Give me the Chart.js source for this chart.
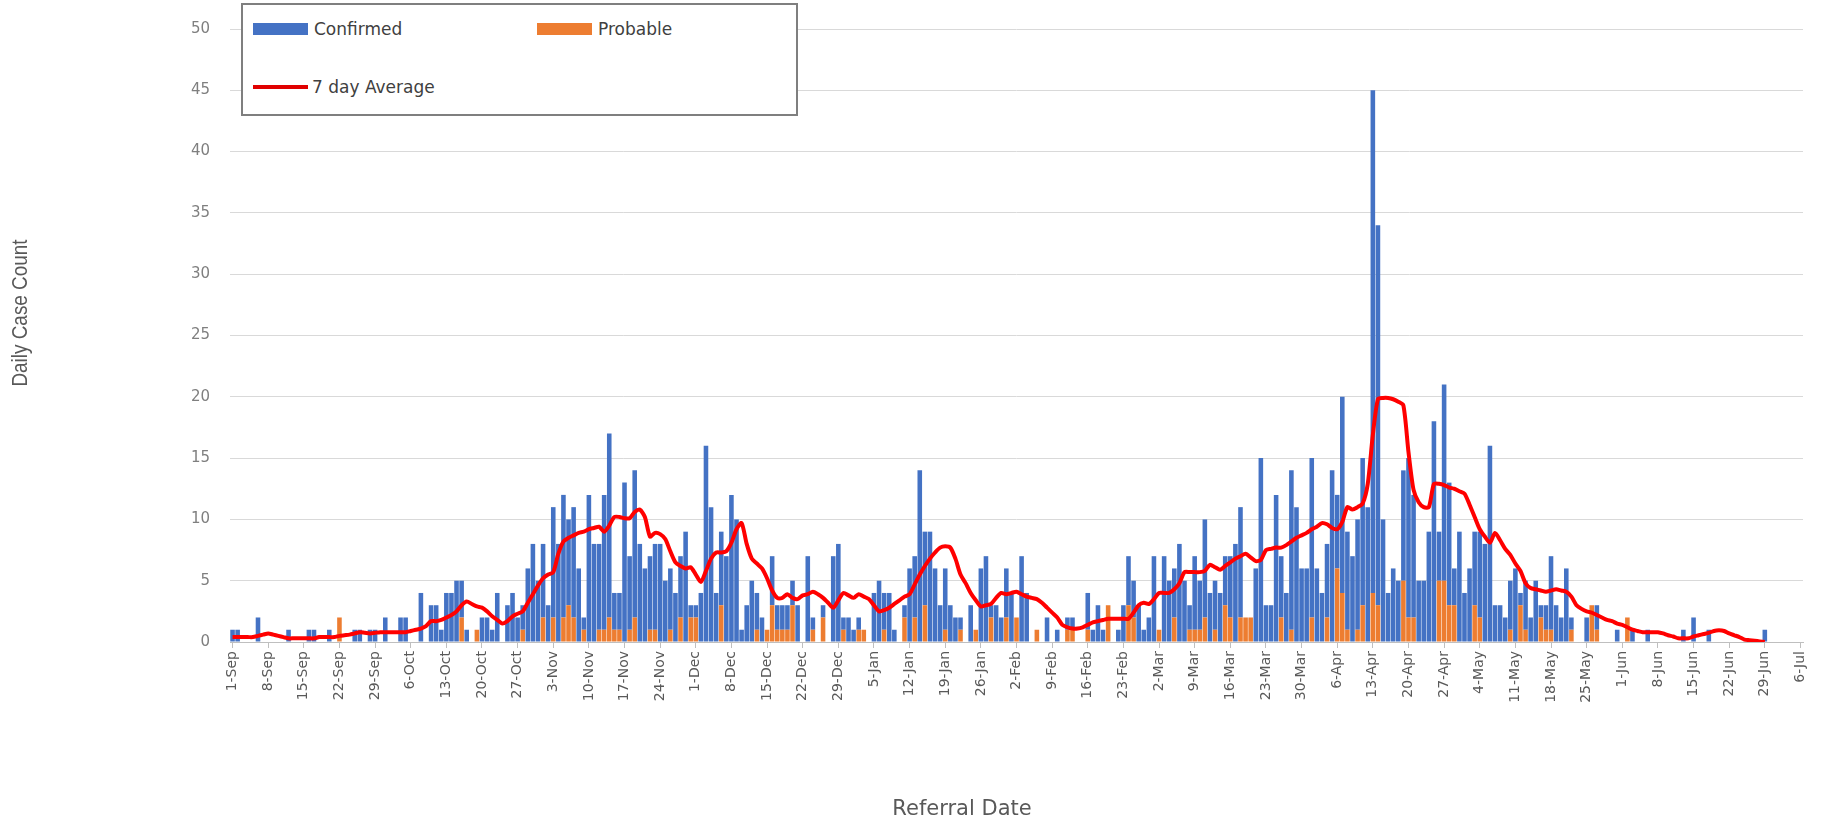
<!DOCTYPE html>
<html>
<head>
<meta charset="utf-8">
<script src="https://cdn.jsdelivr.net/npm/chart.js@4.4.1/dist/chart.umd.min.js"></script>
<style>
body{margin:0;background:#fff;}
#wrap{position:relative;width:1824px;height:822px;}
#legend{position:absolute;left:241px;top:3px;width:553px;height:109px;border:2px solid #7f7f7f;background:#fff;font-family:"DejaVu Sans";font-size:17px;color:#404040;}
.item{position:absolute;display:flex;align-items:center;height:22px;}
.box{width:55px;height:12px;margin-right:6px;}
.ln{width:55px;height:4px;margin-right:4px;background:#e00000;}
</style>
</head>
<body>
<div id="wrap">
<canvas id="chart" width="1824" height="822"></canvas>
<div id="legend">
<div class="item" style="left:10px;top:13px;"><span class="box" style="background:#4472c4"></span>Confirmed</div>
<div class="item" style="left:294px;top:13px;"><span class="box" style="background:#ed7d31"></span>Probable</div>
<div class="item" style="left:10px;top:71px;"><span class="ln"></span>7 day Average</div>
</div>
</div>
<script>

// weekly tick labels, 1-Sep-2020 .. 6-Jul-2021
const tickLabels=[
"1-Sep","8-Sep","15-Sep","22-Sep","29-Sep","6-Oct","13-Oct","20-Oct","27-Oct",
"3-Nov","10-Nov","17-Nov","24-Nov","1-Dec","8-Dec","15-Dec","22-Dec","29-Dec",
"5-Jan","12-Jan","19-Jan","26-Jan","2-Feb","9-Feb","16-Feb","23-Feb",
"2-Mar","9-Mar","16-Mar","23-Mar","30-Mar","6-Apr","13-Apr","20-Apr","27-Apr",
"4-May","11-May","18-May","25-May","1-Jun","8-Jun","15-Jun","22-Jun","29-Jun","6-Jul"
];

// daily counts, one row per week
const confirmed=[
1,1,0,0,0,2,0,
0,0,0,0,1,0,0,
0,1,1,0,0,1,0,
0,0,0,1,1,0,1,
1,0,2,0,0,2,2,
0,0,4,0,3,3,1,
4,4,5,3,1,0,0,
2,2,1,4,0,3,4,
2,2,6,8,5,6,3,
9,8,10,7,9,6,1,
12,8,7,11,15,3,3,
13,6,12,8,6,6,7,
8,5,5,4,5,9,1,
1,4,16,11,4,6,7,
12,10,1,3,5,3,2,
0,4,2,2,2,2,3,
0,7,1,0,1,0,7,
8,1,2,1,1,0,0,
4,5,3,4,1,0,1,
6,5,14,6,9,6,3,
5,3,2,1,0,3,0,
6,7,1,3,2,4,4,
0,7,4,0,0,0,2,
0,1,0,1,1,0,0,
3,1,3,1,0,0,1,
3,4,3,3,1,2,7,
0,7,5,4,8,5,2,
6,4,8,4,4,4,4,
5,8,9,0,0,6,15,
3,3,12,5,4,13,11,
6,6,13,6,4,6,14,
6,16,8,7,9,12,11,
41,31,10,4,6,5,9,
13,10,5,5,9,18,4,
16,10,3,9,4,6,6,
7,8,16,3,3,2,4,
6,1,4,2,5,1,2,
6,3,2,6,1,0,0,
2,0,2,0,0,0,1,
0,0,1,0,0,1,0,
0,0,0,0,0,1,0,
2,0,0,1,0,0,0,
0,0,0,0,0,0,0,
1,0,0,0,0,0,0,
0
];

const probable=[
0,0,0,0,0,0,0,
0,0,0,0,0,0,0,
0,0,0,0,0,0,0,
2,0,0,0,0,0,0,
0,0,0,0,0,0,0,
0,0,0,0,0,0,0,
0,0,0,2,0,0,1,
0,0,0,0,0,0,0,
0,1,0,0,0,2,0,
2,0,2,3,2,0,1,
0,0,1,1,2,1,1,
0,1,2,0,0,1,1,
0,0,1,0,2,0,2,
2,0,0,0,0,3,0,
0,0,0,0,0,1,0,
1,3,1,1,1,3,0,
0,0,1,0,2,0,0,
0,1,0,0,1,1,0,
0,0,1,0,0,0,2,
0,2,0,3,0,0,0,
1,0,0,1,0,0,1,
0,0,2,0,0,2,0,
2,0,0,0,1,0,0,
0,0,0,1,1,0,0,
1,0,0,0,3,0,0,
0,3,2,0,0,0,0,
1,0,0,2,0,0,1,
1,1,2,0,1,0,3,
2,0,2,2,2,0,0,
0,0,0,2,0,1,0,
0,0,2,0,0,2,0,
6,4,1,0,1,3,0,
4,3,0,0,0,0,5,
2,2,0,0,0,0,5,
5,3,3,0,0,0,3,
2,0,0,0,0,0,1,
0,3,1,0,0,2,1,
1,0,0,0,1,0,0,
0,3,1,0,0,0,0,
0,2,0,0,0,0,0,
0,0,0,0,0,0,0,
0,0,0,0,0,0,0,
0,0,0,0,0,0,0,
0,0,0,0,0,0,0,
0
];

const average=[
0.4,0.4,0.4,0.4,0.4,0.5,0.6,
0.7,0.6,0.5,0.4,0.3,0.3,0.3,
0.3,0.3,0.3,0.4,0.4,0.4,0.4,
0.5,0.55,0.6,0.7,0.8,0.75,0.7,
0.75,0.8,0.8,0.8,0.8,0.8,0.8,
0.9,1.0,1.1,1.3,1.7,1.7,1.8,
2.0,2.2,2.5,3.0,3.3,3.1,2.9,
2.8,2.5,2.1,1.8,1.5,1.7,2.1,
2.3,2.5,3.2,3.9,4.6,5.2,5.5,
5.7,7.2,8.2,8.5,8.7,8.9,9.0,
9.2,9.3,9.4,9.0,9.5,10.2,10.2,
10.1,10.1,10.6,10.8,10.2,8.6,8.9,
8.8,8.4,7.4,6.5,6.2,6.0,6.1,
5.5,4.9,5.8,6.8,7.3,7.3,7.4,
8.1,9.2,9.7,8.0,6.8,6.4,6.0,
5.2,4.2,3.6,3.6,3.9,3.6,3.5,
3.8,3.9,4.1,3.9,3.6,3.2,2.8,
3.4,4.0,3.8,3.6,3.9,3.7,3.5,
3.0,2.5,2.6,2.8,3.1,3.4,3.7,
3.9,4.7,5.5,6.2,6.8,7.3,7.7,
7.8,7.7,6.8,5.5,4.8,4.0,3.4,
2.9,3.0,3.1,3.6,4.0,3.9,4.0,
4.1,3.9,3.7,3.6,3.5,3.2,2.8,
2.4,2.0,1.4,1.2,1.1,1.1,1.2,
1.4,1.6,1.7,1.8,1.9,1.9,1.9,
1.9,1.9,2.4,3.0,3.2,3.1,3.5,
4.0,4.0,4.0,4.3,4.8,5.7,5.7,
5.7,5.7,5.8,6.3,6.1,5.9,6.2,
6.5,6.8,7.0,7.2,6.9,6.6,6.7,
7.5,7.6,7.7,7.7,7.9,8.2,8.5,
8.7,8.9,9.2,9.4,9.7,9.6,9.3,
9.2,9.8,11.0,10.8,11.0,11.3,12.9,
16.9,19.8,19.9,19.9,19.8,19.6,19.3,
15.5,12.4,11.4,11.0,11.0,12.9,12.9,
12.8,12.6,12.5,12.3,12.1,11.2,10.2,
9.2,8.6,8.1,8.9,8.3,7.6,7.1,
6.4,5.8,4.8,4.4,4.3,4.2,4.1,
4.2,4.3,4.2,4.1,3.7,3.0,2.7,
2.5,2.4,2.2,2.0,1.8,1.7,1.5,
1.4,1.2,1.0,0.9,0.8,0.8,0.8,
0.8,0.7,0.55,0.45,0.3,0.3,0.3,
0.45,0.55,0.65,0.75,0.9,0.95,0.9,
0.7,0.55,0.4,0.2,0.15,0.1,0.05,
0,null,null,null,null,null,null,
null
];

const yTicks=[0,5,10,15,20,25,30,35,40,45,50];

// one category per day
const months=["Jan","Feb","Mar","Apr","May","Jun","Jul","Aug","Sep","Oct","Nov","Dec"];
const days=[];
for(let i=0;i<confirmed.length;i++){
const d=new Date(2020,8,1+i);
days.push(d.getDate()+"-"+months[d.getMonth()]);
}

const axisTitles={
id:"axisTitles",
afterDraw(chart){
const ctx=chart.ctx;
ctx.save();
ctx.fillStyle="#595959";
ctx.textAlign="center";
ctx.textBaseline="middle";
ctx.font='21px "DejaVu Sans"';
ctx.fillText("Referral Date",962,810);
ctx.translate(21,313);
ctx.rotate(-Math.PI/2);
ctx.scale(0.86,1);
ctx.font='22px "Liberation Sans"';
ctx.fillText("Daily Case Count",0,0);
ctx.restore();
}
};

new Chart(document.getElementById("chart"),{
type:"bar",
data:{
labels:days,
datasets:[
{
type:"line",
label:"7 day Average",
data:average,
borderColor:"#ff0000",
borderWidth:4,
pointRadius:0,
tension:0.25,
stack:"avg",
order:0
},
{
label:"Probable",
data:probable,
backgroundColor:"#ed7d31",
stack:"cases",
order:1,
barPercentage:1,
categoryPercentage:0.9
},
{
label:"Confirmed",
data:confirmed,
backgroundColor:"#4472c4",
stack:"cases",
order:1,
barPercentage:1,
categoryPercentage:0.9
}
]
},
options:{
responsive:false,
animation:false,
layout:{padding:{top:14,right:21,left:0,bottom:0}},
plugins:{legend:{display:false},tooltip:{enabled:false}},
scales:{
x:{
stacked:true,
afterFit(scale){scale.height=180;},
afterBuildTicks(axis){axis.ticks=axis.ticks.filter(t=>t.value%7===0);},
grid:{display:true,drawOnChartArea:false,offset:false,tickLength:6,color:"#bfbfbf"},
border:{color:"#bfbfbf"},
ticks:{
autoSkip:false,
minRotation:90,
maxRotation:90,
color:"#595959",
font:{family:"DejaVu Sans",size:14},
callback(value){return tickLabels[value/7];}
}
},
y:{
stacked:true,
min:0,
max:50,
afterFit(scale){scale.width=230;},
afterBuildTicks(axis){axis.ticks=yTicks.map(v=>({value:v}));},
grid:{color:"#d9d9d9",drawTicks:false},
border:{display:false},
ticks:{
color:"#7f7f7f",
padding:20,
font:{family:"DejaVu Sans",size:15}
}
}
}
},
plugins:[axisTitles]
});

</script>
</body>
</html>
